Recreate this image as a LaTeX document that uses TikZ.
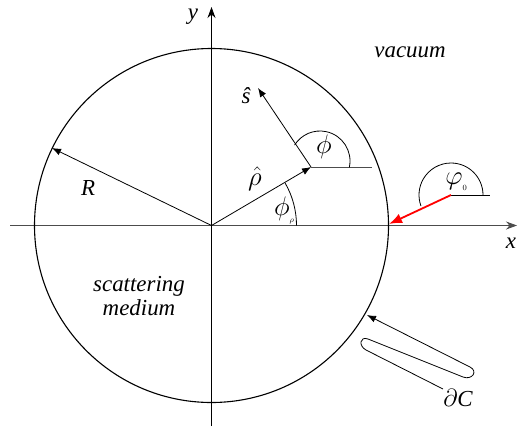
\documentclass[tikz,border=0pt]{standalone}
\usepackage{graphicx}
\usepackage{fontspec}
\setmainfont{Liberation Serif}
\usetikzlibrary{arrows.meta}
\newcommand{\tinysub}[1]{\mbox{\fontsize{8}{8}\selectfont$#1$}}
\newcommand{\mysymb}[1]{\scalebox{1.3}{$#1$}}
\begin{document}
\begin{tikzpicture}[x=1bp,y=1bp,
  lbl/.style={inner sep=0pt, font=\fontsize{23}{25}\selectfont\itshape},
  mlbl/.style={inner sep=0pt, font=\fontsize{20}{22}\selectfont},
  axisline/.style={line width=0.9bp, black!70, -{Stealth[length=11bp,width=8bp]}},
  vec/.style={line width=0.8bp, -{Latex[length=9bp,width=7bp]}},
  thinline/.style={line width=0.8bp},
  refline/.style={line width=0.9bp, black!70}
]
\useasboundingbox (0,0) rectangle (518,426);
% axes
\coordinate (O) at (211.5,200.5);
\coordinate (xs) at (10,200.5);
\coordinate (xe) at (517,200.5);
\coordinate (ys) at (211.5,0);
\coordinate (ye) at (211.5,419);
\draw[axisline] (xs) -- (xe);
\draw[axisline, black] (ys) -- (ye);
\node[lbl] (ylab) at (193,409) {y};
\node[lbl] (xlab) at (511,183) {x};
% circle
\draw[line width=1.1bp] (O) circle[radius=177];
% R
\coordinate (Rend) at (52,278);
\draw[vec] (O) -- (Rend);
\node[lbl] (R) at (88,238) {R};
% rho hat
\coordinate (P) at (311,259);
\draw[vec] (O) -- (P);
\node[mlbl] (rho) at (255,247) {\mysymb{\hat\rho}};
\draw[thinline] ([shift={(0:85)}]O) arc[start angle=0,end angle=30,radius=85];
\node[mlbl] (phirho) at (284,216) {\mysymb{\phi}\raisebox{-7bp}{\tinysub{\rho}}};
% s hat
\coordinate (S) at (258,338);
\draw[vec] (P) -- (S);
\node[lbl] (shat) at (246,330) {ŝ};
\coordinate (Ph) at (372,259);
\draw[refline] (P) -- (Ph);
\coordinate (Pc) at (320,265);
\draw[thinline] ([shift={(-12:30)}]Pc) arc[start angle=-12,end angle=148,radius=30];
\node[mlbl] (phi) at (324,279) {\mysymb{\phi}};
% phi0 and red arrow
\coordinate (Q) at (451,231);
\coordinate (Qh) at (490,231);
\coordinate (B) at (389,202);
\draw[thinline] (Q) -- (Qh);
\draw[thinline] ([shift={(0:32)}]Q) arc[start angle=0,end angle=200,radius=32];
\draw[red, line width=1.8bp, -{Latex[length=13bp,width=10bp]}] (Q) -- (B);
\node[mlbl] (phi0) at (456,244) {\mysymb{\varphi}\raisebox{-6bp}{\tinysub{0}}};
% vacuum, scattering medium
\node[lbl] (vac) at (410,374) {vacuum};
\node[lbl, align=center] (med) at (139,130) {scattering\\medium};
% boundary lasso
\coordinate (T) at (443,37);
\coordinate (L1) at (366,76);
\coordinate (L2) at (368,87);
\coordinate (R1) at (463,49);
\coordinate (R2) at (470,59);
\coordinate (A) at (367,111);
\draw[thinline, -{Latex[length=9bp,width=7bp]}] (T) -- (L1) to[out=152,in=159,looseness=2] (L2) -- (R1) to[out=-21,in=-27,looseness=2] (R2) -- (A);
\node[lbl] (dC) at (458,28) {$\partial$C};
\end{tikzpicture}
\end{document}
